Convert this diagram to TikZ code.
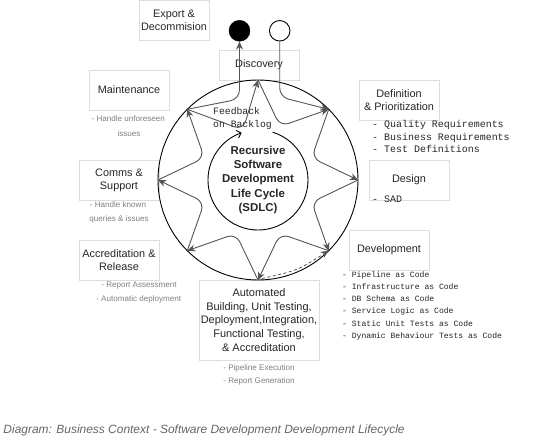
\documentclass[tikz,border=0pt]{standalone}
\usepackage{fontspec}
\setmainfont{Liberation Sans}
\newfontfamily\monofont{Liberation Mono}
\usetikzlibrary{arrows.meta}
\definecolor{boxgray}{HTML}{DDDDDD}
\definecolor{linegray}{HTML}{555555}
\definecolor{txtgray}{HTML}{808080}
\definecolor{capgray}{HTML}{666666}
\begin{document}
\begin{tikzpicture}[x=1bp,y=-1bp,
  box/.style={draw=boxgray, fill=white, line width=0.6bp, align=center, inner sep=0pt,
    font=\fontsize{10.9}{13.2}\selectfont, text=black!85},
  note/.style={inner sep=0pt, anchor=base, text=txtgray, font=\fontsize{8.1}{10}\selectfont},
  code/.style={inner sep=0pt, anchor=base west, text=black!85, font=\monofont\fontsize{10}{12}\selectfont},
  smallcode/.style={inner sep=0pt, anchor=base west, text=black!85, font=\monofont\fontsize{8.1}{10}\selectfont},
  flow/.style={draw=linegray, line width=0.9bp, -{Stealth[length=8bp,width=7bp]}, rounded corners=9bp},
]
\useasboundingbox (0,0) rectangle (559,441);
\fill[white] (0,0) rectangle (559,441);

% boxes
\node[box, minimum width=70bp, minimum height=40bp] (export) at (174,20) {Export \&\\Decommision};
\node[box, minimum width=80bp, minimum height=30bp] (discovery) at (259,65) {Discovery};
\node[box, minimum width=80bp, minimum height=40bp] (maint) at (129,90) {Maintenance};
\node[box, minimum width=80bp, minimum height=40bp] (defin) at (399,100) {Definition\\\& Prioritization};
\node[box, minimum width=80bp, minimum height=40bp] (design) at (409,180) {Design};
\node[box, minimum width=80bp, minimum height=40bp] (devel) at (389,250) {Development};
\node[box, minimum width=80bp, minimum height=40bp] (comms) at (119,180) {Comms \&\\Support};
\node[box, minimum width=80bp, minimum height=40bp] (accred) at (119,260) {Accreditation \&\\Release};
\node[box, minimum width=120bp, minimum height=80bp, font=\fontsize{11}{13.75}\selectfont] (auto) at (259,320)
  {Automated\\Building, Unit Testing,\\Deployment,Integration,\\Functional Testing,\\\& Accreditation};

% gray notes
\node[note] (n1) at (128.3,121.9) {- Handle unforeseen};
\node[note] (n2) at (129,136.2) {issues};
\node[note] (n3) at (118,207.2) {- Handle known};
\node[note] (n4) at (119,221.2) {queries \& issues};
\node[note] (n5) at (139,287.9) {- Report Assessment};
\node[note] (n6) at (138.7,301.2) {- Automatic deployment};
\node[note] (n7) at (259,370.2) {- Pipeline Execution};
\node[note] (n8) at (259,383.9) {- Report Generation};

% code lists
\node[code] (d1) at (372,127.8) {- Quality Requirements};
\node[code] (d2) at (372,140.2) {- Business Requirements};
\node[code] (d3) at (372,152.8) {- Test Definitions};
\node[code] (s1) at (372,202.8) {- SAD};
\node[smallcode] (v1) at (342,277.1) {- Pipeline as Code};
\node[smallcode] (v2) at (342,289.5) {- Infrastructure as Code};
\node[smallcode] (v3) at (342,301.8) {- DB Schema as Code};
\node[smallcode] (v4) at (342,313.8) {- Service Logic as Code};
\node[smallcode] (v5) at (342,326.1) {- Static Unit Tests as Code};
\node[smallcode] (v6) at (342,338.5) {- Dynamic Behaviour Tests as Code};

% circles
\coordinate (c) at (258,180);
\draw[black, line width=0.9bp] (c) circle[radius=100];
\node[circle, fill=black, draw=black, minimum size=21bp, inner sep=0pt] (endc) at (239.5,30.8) {};
\node[circle, fill=white, draw=black, line width=0.9bp, minimum size=20.5bp, inner sep=0pt] (startc) at (279.7,30.8) {};

% inner circle with feedback arrow
\draw[black, line width=0.9bp, -{Straight Barb[length=4bp,width=8bp]}] (272.6,132.2) arc[start angle=-73, end angle=251, radius=50];
\node[font=\bfseries\fontsize{11.5}{14.2}\selectfont, align=center, inner sep=0pt, text=black!85] (title) at (258,180)
  {Recursive\\Software\\Development\\Life Cycle\\(SDLC)};
\node[inner sep=0pt, anchor=base west, text=black!85, font=\monofont\fontsize{9.8}{12}\selectfont] (fb1) at (213,115) {Feedback};
\node[inner sep=0pt, anchor=base west, text=black!85, font=\monofont\fontsize{9.8}{12}\selectfont] (fb2) at (213,127.3) {on Backlog};

% star points
\coordinate (pN) at (258,80);
\coordinate (pNE) at (328.7,109.3);
\coordinate (pE) at (358,180);
\coordinate (pSE) at (328.7,250.7);
\coordinate (pS) at (258,280);
\coordinate (pSW) at (187.3,250.7);
\coordinate (pW) at (158,180);
\coordinate (pNW) at (187.3,109.3);
\coordinate (vNNE) at (280.2,126.4);
\coordinate (vENE) at (311.6,157.8);
\coordinate (vESE) at (311.6,202.2);
\coordinate (vSSE) at (280.2,233.6);
\coordinate (vSSW) at (235.8,233.6);
\coordinate (vWSW) at (204.4,202.2);
\coordinate (vWNW) at (204.4,157.8);
\coordinate (vNNW) at (243,130);

\draw[flow] (pN) -- (vNNE) -- (pNE);
\draw[flow] (pNE) -- (vENE) -- (pE);
\draw[flow] (pE) -- (vESE) -- (pSE);
\draw[flow] (pSE) -- (vSSE) -- (pS);
\draw[flow] (pS) -- (vSSW) -- (pSW);
\draw[flow] (pSW) -- (vWSW) -- (pW);
\draw[flow] (pW) -- (vWNW) -- (pNW);
\draw[flow] (pNW) -- (vNNW) -- (pN);

% start / end connectors
\coordinate (kb) at (239.5,99);
\coordinate (kw) at (279.7,97);
\draw[flow] (pNW) -- (kb) -- (endc.south);
\draw[flow] (startc.south) -- (kw) -- (pNE);

% dashed
\coordinate (pS2) at (262,278.5);
\coordinate (dc) at (297.5,270.5);
\draw[linegray, line width=0.8bp, dash pattern=on 3bp off 2.5bp, -{Stealth[length=8bp,width=7bp]}] (pS2) .. controls (dc) .. (pSE);

% caption
\node[inner sep=0pt, anchor=base west, text=capgray, font=\itshape\fontsize{12}{14}\selectfont] (cap) at (3.3,433) {Diagram: Business Context - Software Development Development Lifecycle};
\end{tikzpicture}
\end{document}
